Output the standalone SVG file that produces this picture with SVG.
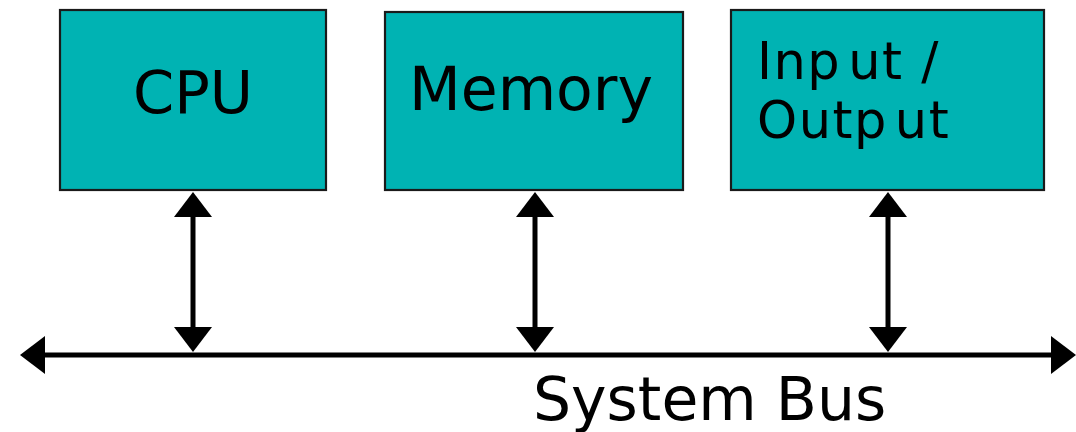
<svg xmlns="http://www.w3.org/2000/svg" width="1076" height="432" viewBox="0 0 1076 432">
<style>
.box{fill:#00b3b3;stroke:#1a1a1a;stroke-width:2.2}
.lbl{font-family:"DejaVu Sans",sans-serif;fill:#000}
.conn{stroke:#000;stroke-width:5;fill:none;marker-start:url(#ah);marker-end:url(#ah)}
</style>
<defs>
<marker id="ah" viewBox="0 0 25 38" refX="0" refY="19" markerWidth="25" markerHeight="38" markerUnits="userSpaceOnUse" orient="auto-start-reverse">
<path d="M0,0 L25,19 L0,38 Z" fill="#000"/>
</marker>
</defs>
<rect width="1076" height="432" fill="#fff"/>
<g id="cpu">
<rect class="box" x="60" y="10" width="266" height="180"/>
<text class="lbl" x="193" y="113" font-size="59" text-anchor="middle">CPU</text>
</g>
<g id="memory">
<rect class="box" x="385" y="12" width="298" height="178"/>
<text class="lbl" x="531" y="110" font-size="60" text-anchor="middle">Memory</text>
</g>
<g id="io">
<rect class="box" x="731" y="10" width="313" height="180"/>
<text class="lbl" font-size="51" letter-spacing="1.5"><tspan x="757" y="79">Inp</tspan><tspan dx="7">ut /</tspan></text>
<text class="lbl" font-size="51" letter-spacing="1.5"><tspan x="757" y="138">Outp</tspan><tspan dx="7">ut</tspan></text>
</g>
<g id="connectors">
<path class="conn" d="M193,217 L193,327"/>
<path class="conn" d="M535,217 L535,327"/>
<path class="conn" d="M888,217 L888,327"/>
<path class="conn" d="M45,355 L1051,355"/>
</g>
<g id="bus-label">
<text class="lbl" x="533" y="420" font-size="60">System Bus</text>
</g>
</svg>
